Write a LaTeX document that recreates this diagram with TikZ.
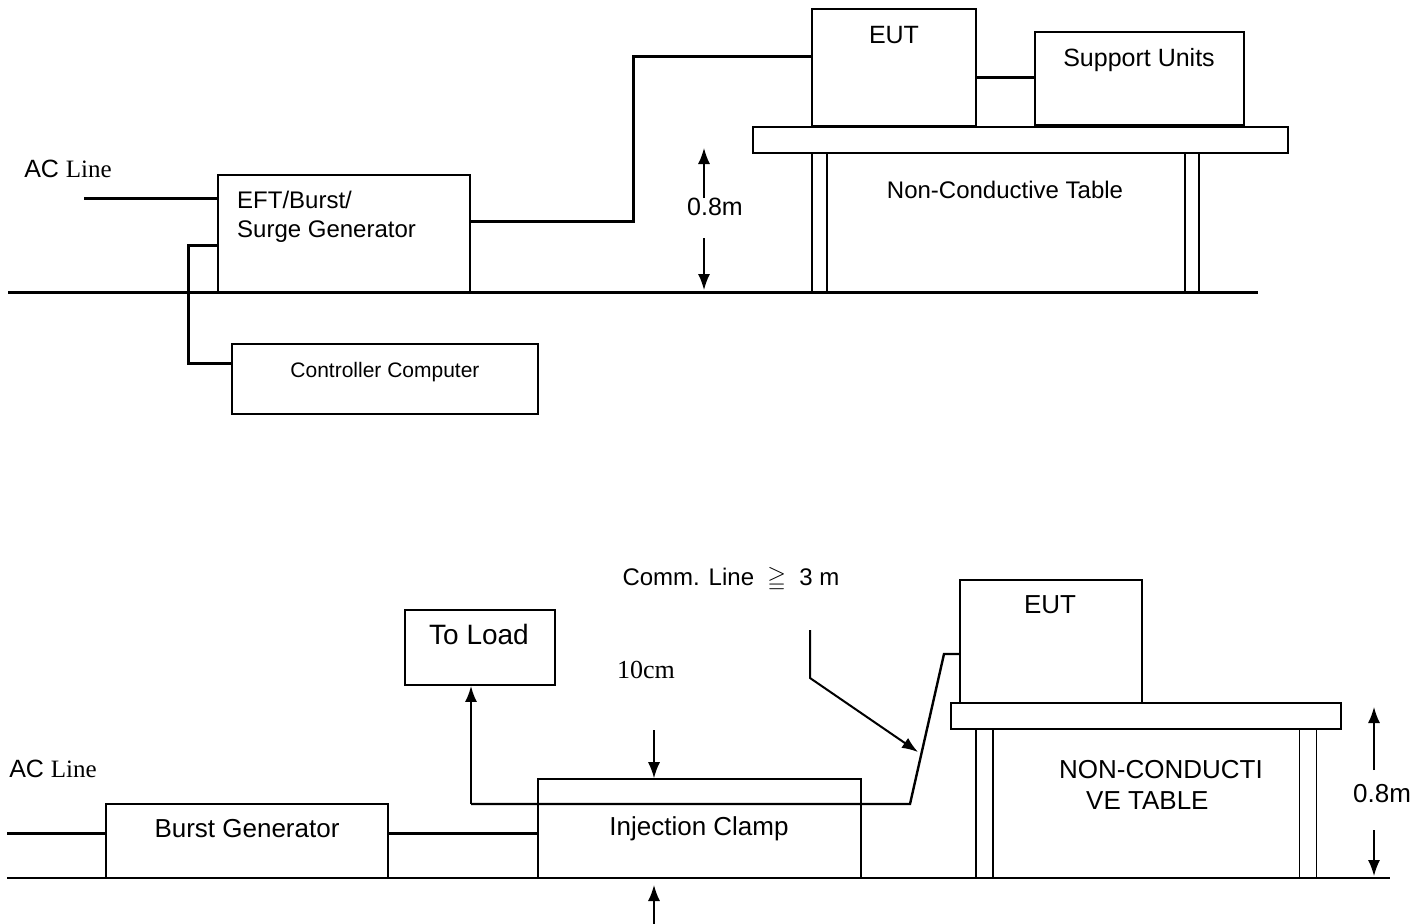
\documentclass[tikz,border=0pt]{standalone}
\usepackage{amssymb}
\usepackage{fontspec}
\setmainfont{Liberation Sans}
\newfontfamily\tnr{Liberation Serif}
\usetikzlibrary{arrows.meta}

\begin{document}
\begin{tikzpicture}[x=1pt, y=-1pt,
		box/.style = {draw, line width=1.6pt, inner sep=0pt},
		wire/.style = {line width=3pt},
		thinline/.style = {line width=1.5pt},
		arr/.style = {-{Latex[length=16pt,width=12pt]}},
		lbl/.style = {inner sep=0pt, font=\fontsize{24}{29}\selectfont},
		big/.style = {inner sep=0pt, font=\fontsize{26}{31}\selectfont}
		]
		\useasboundingbox (0,0) rectangle (1428,924);
		% upper set-up
		\node[lbl, font=\fontsize{25}{30}\selectfont] (acA) at (68,169) {AC {\tnr Line}};
		\coordinate (acA0) at (84,198);
		\node[box, minimum width=252pt, minimum height=117pt] (gen) at (344,233.5) {};
		\node[lbl, anchor=north west, align=left] (gentxt) at (237,191) {EFT/Burst/\\Surge Generator};
		\node[box, minimum width=306pt, minimum height=70pt] (ctrl) at (385,379) {};
		\node[lbl, font=\fontsize{21}{25}\selectfont] (ctrltxt) at (385,372) {Controller Computer};
		\node[box, minimum width=164pt, minimum height=117pt] (eutA) at (894,67.5) {};
		\node[lbl, font=\fontsize{25}{30}\selectfont] (eutAtxt) at (894,35) {EUT};
		\node[box, minimum width=209pt, minimum height=93pt] (sup) at (1139.5,78.5) {};
		\node[lbl, font=\fontsize{25}{30}\selectfont] (suptxt) at (1139,60) {Support Units};
		\node[box, minimum width=535pt, minimum height=26pt] (topA) at (1020.5,140) {};
		\node[box, minimum width=15pt, minimum height=139pt] (legA1) at (819.5,222.5) {};
		\node[box, minimum width=14pt, minimum height=139pt] (legA2) at (1192,222.5) {};
		\node[lbl] (tabA) at (1005,190) {Non-Conductive Table};
		\coordinate (gndA0) at (8,292);
		\coordinate (gndA1) at (1258,292);
		\draw[line width=3pt] (gndA0) -- (gndA1);
		\node[lbl, font=\fontsize{25}{30}\selectfont] (hA) at (715,207) {0.8m};
		\coordinate (hA0) at (704,198);
		\coordinate (hA1) at (704,148);
		\coordinate (hA2) at (704,238);
		\coordinate (hA3) at (704,290);
		\draw[thinline, arr] (hA0) -- (hA1);
		\draw[thinline, arr] (hA2) -- (hA3);
		\coordinate (jog) at (633,56);
		\coordinate (drop) at (188,363);
		\draw[wire] (acA0) -- (acA0 -| gen.west);
		\draw[wire] ([yshift=12.5pt]gen.east) -| (jog) -- (jog -| eutA.west);
		\draw[wire] ([yshift=-11.5pt]gen.west) -| (drop) -- (drop -| ctrl.west);
		\draw[wire] ([yshift=-9.5pt]eutA.east) -- ([yshift=-9.5pt]eutA.east -| sup.west);
		% lower set-up
		\node[lbl, font=\fontsize{25}{30}\selectfont] (acB) at (53,769) {AC {\tnr Line}};
		\coordinate (acB0) at (7,833);
		\node[box, minimum width=282pt, minimum height=74pt] (bgen) at (247,841) {};
		\node[big] (bgentxt) at (247,829) {Burst Generator};
		\node[box, minimum width=323pt, minimum height=99pt] (clamp) at (699.5,828.5) {};
		\node[big] (clamptxt) at (699,829) {Injection Clamp};
		\node[box, minimum width=150pt, minimum height=75pt] (load) at (480,647.5) {};
		\node[big, font=\fontsize{28}{33}\selectfont] (loadtxt) at (479,634) {To Load};
		\node[box, minimum width=182pt, minimum height=123pt] (eutB) at (1051,641.5) {};
		\node[big] (eutBtxt) at (1050,605) {EUT};
		\node[box, minimum width=390pt, minimum height=26pt] (topB) at (1146,716) {};
		\node[box, minimum width=17pt, minimum height=149pt] (legB1) at (984.5,803.5) {};
		\node[box, minimum width=17pt, minimum height=149pt] (legB2) at (1308,803.5) {};
		\node[big, anchor=west, align=left] (tabB) at (1059,785) {NON-CONDUCTI\\\hspace*{27pt}VE TABLE};
		\coordinate (gndB0) at (7,878);
		\coordinate (gndB1) at (1390,878);
		\draw[line width=2pt] (gndB0) -- (gndB1);
		\node[big] (hB) at (1382,794) {0.8m};
		\coordinate (hB0) at (1374,770);
		\coordinate (hB1) at (1374,707);
		\coordinate (hB2) at (1374,830);
		\coordinate (hB3) at (1374,876);
		\draw[thinline, arr] (hB0) -- (hB1);
		\draw[thinline, arr] (hB2) -- (hB3);
		\node[lbl] (comm) at (731,579) {Comm. Line\ \ $\geqq$\ \ 3 m};
		\node[big, font=\tnr\fontsize{26}{31}\selectfont] (tencm) at (646,670) {10cm};
		\coordinate (tc0) at (654,730);
		\coordinate (tc1) at (654,924);
		\coordinate (tc2) at (654,885);
		\draw[thinline, arr] (tc0) -- (tc0 |- clamp.north);
		\draw[thinline, arr] (tc1) -- (tc2);
		\draw[wire] (acB0) -- (acB0 -| bgen.west);
		\draw[wire] (acB0 -| bgen.east) -- (acB0 -| clamp.west);
		\coordinate (kB1) at (944,654);
		\coordinate (kB2) at (910,804);
		\coordinate (cl) at (471,804);
		\draw[line width=2.4pt] (kB1 -| eutB.west) -- (kB1) -- (kB2) -- (cl);
		\draw[line width=2.2pt, arr] (cl) -- (cl |- load.south);
		\coordinate (cp0) at (810,630);
		\coordinate (cp1) at (810,678);
		\coordinate (cp2) at (918,752);
		\draw[line width=2pt, arr] (cp0) -- (cp1) -- (cp2);
\end{tikzpicture}
\end{document}
